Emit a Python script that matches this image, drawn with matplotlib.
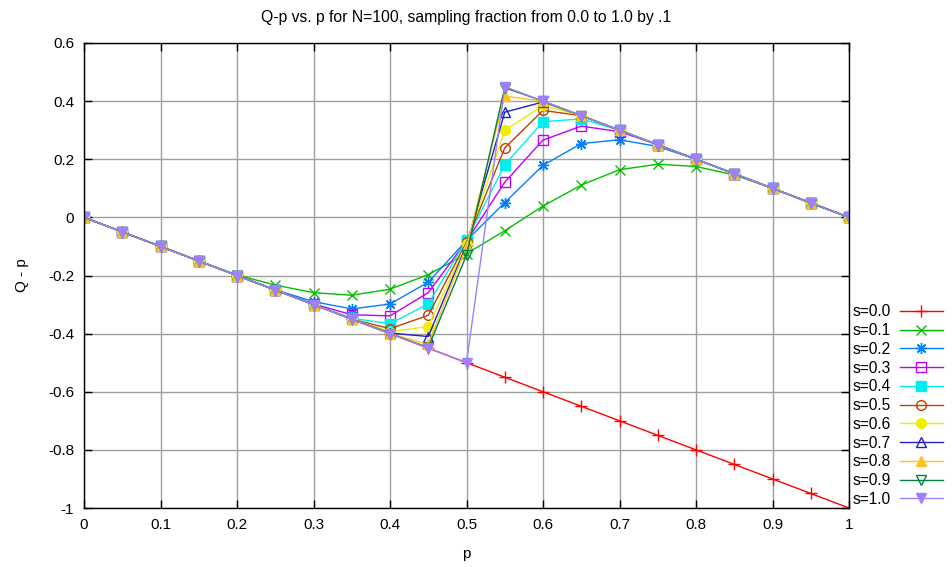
import matplotlib
matplotlib.use("Agg")
import matplotlib.pyplot as plt

plt.rcParams['font.family'] = ['Liberation Sans', 'DejaVu Sans']
plt.rcParams['font.size'] = 11

p = [0.0, 0.05, 0.1, 0.15, 0.2, 0.25, 0.3, 0.35, 0.4, 0.45, 0.5,
     0.55, 0.6, 0.65, 0.7, 0.75, 0.8, 0.85, 0.9, 0.95, 1.0]

s00 = [0.0, -0.05, -0.1, -0.15, -0.2, -0.25, -0.3, -0.35, -0.4, -0.45, -0.5,
       -0.55, -0.6, -0.65, -0.7, -0.75, -0.8, -0.85, -0.9, -0.95, -1.0]
s01 = [0.0, -0.05, -0.1, -0.15, -0.198, -0.233, -0.259, -0.268, -0.247, -0.197, -0.125,
       -0.046, 0.039, 0.111, 0.164, 0.183, 0.175, 0.146, 0.1, 0.048, 0.0]
s02 = [0.0, -0.05, -0.1, -0.15, -0.2, -0.249, -0.29, -0.315, -0.298, -0.223, -0.08,
       0.051, 0.179, 0.254, 0.267, 0.244, 0.2, 0.15, 0.1, 0.05, 0.0]
s03 = [0.0, -0.05, -0.1, -0.15, -0.2, -0.25, -0.298, -0.335, -0.339, -0.259, -0.082,
       0.121, 0.266, 0.314, 0.295, 0.25, 0.2, 0.15, 0.1, 0.05, 0.0]
s04 = [0.0, -0.05, -0.1, -0.15, -0.2, -0.25, -0.3, -0.347, -0.366, -0.298, -0.078,
       0.181, 0.329, 0.339, 0.3, 0.25, 0.2, 0.15, 0.1, 0.05, 0.0]
s05 = [0.0, -0.05, -0.1, -0.15, -0.2, -0.25, -0.3, -0.35, -0.383, -0.337, -0.085,
       0.239, 0.368, 0.35, 0.3, 0.25, 0.2, 0.15, 0.1, 0.05, 0.0]
s06 = [0.0, -0.05, -0.1, -0.15, -0.2, -0.25, -0.3, -0.35, -0.393, -0.376, -0.09,
       0.299, 0.385, 0.35, 0.3, 0.25, 0.2, 0.15, 0.1, 0.05, 0.0]
s07 = [0.0, -0.05, -0.1, -0.15, -0.2, -0.25, -0.3, -0.35, -0.398, -0.41, -0.095,
       0.362, 0.397, 0.35, 0.3, 0.25, 0.2, 0.15, 0.1, 0.05, 0.0]
s08 = [0.0, -0.05, -0.1, -0.15, -0.2, -0.25, -0.3, -0.35, -0.4, -0.437, -0.1,
       0.417, 0.4, 0.35, 0.3, 0.25, 0.2, 0.15, 0.1, 0.05, 0.0]
s09 = [0.0, -0.05, -0.1, -0.15, -0.2, -0.25, -0.3, -0.35, -0.4, -0.448, -0.13,
       0.446, 0.4, 0.35, 0.3, 0.25, 0.2, 0.15, 0.1, 0.05, 0.0]
s10 = [0.0, -0.05, -0.1, -0.15, -0.2, -0.25, -0.3, -0.35, -0.4, -0.45, -0.5,
       0.45, 0.4, 0.35, 0.3, 0.25, 0.2, 0.15, 0.1, 0.05, 0.0]

series = [s00, s01, s02, s03, s04, s05, s06, s07, s08, s09, s10]
labels = ['s=0.0', 's=0.1', 's=0.2', 's=0.3', 's=0.4', 's=0.5',
          's=0.6', 's=0.7', 's=0.8', 's=0.9', 's=1.0']

xticks = [0, 0.1, 0.2, 0.3, 0.4, 0.5, 0.6, 0.7, 0.8, 0.9, 1.0]
xticklabels = ['0', '0.1', '0.2', '0.3', '0.4', '0.5', '0.6', '0.7', '0.8', '0.9', '1']
yticks = [0.6, 0.4, 0.2, 0, -0.2, -0.4, -0.6, -0.8, -1.0]
yticklabels = ['0.6', '0.4', '0.2', '0', '-0.2', '-0.4', '-0.6', '-0.8', '-1']

colors = ['#ff0000', '#00c000', '#0080ff', '#c000ff', '#00eeee', '#c04000',
          '#eeee00', '#2020c0', '#ffc020', '#008040', '#a080ff']
markers = ['+', 'x', (8, 2, 0), 's', 's', 'o', 'o', '^', '^', 'v', 'v']
filled = [True, True, True, False, True, False, True, False, True, False, True]
msizes = [8, 7, 8, 7, 7, 7, 7, 7, 7, 7, 7]

fig = plt.figure(figsize=(9.52, 5.67), dpi=100)
ax = fig.add_axes([84 / 952, 1 - 508 / 567, (849 - 84) / 952, (508 - 43) / 567])

for ys, lab, c, m, f, ms in zip(series, labels, colors, markers, filled, msizes):
    kw = dict(color=c, marker=m, markersize=ms, linewidth=1.0, label=lab,
              markeredgewidth=1.0)
    if not f:
        kw['markerfacecolor'] = 'none'
    ax.plot(p, ys, **kw)

ax.set_xlim(0, 1)
ax.set_ylim(-1, 0.6)
ax.set_xticks(xticks)
ax.set_xticklabels(xticklabels)
ax.set_yticks(yticks)
ax.set_yticklabels(yticklabels)
ax.tick_params(direction='in', length=6, top=True, right=True, width=1, pad=7)
ax.grid(True, color='#a0a0a0', linewidth=1.0)
ax.set_axisbelow(True)
for sp in ax.spines.values():
    sp.set_linewidth(1.0)
    sp.set_color('black')

ax.set_xlabel('p', labelpad=11)
ax.set_ylabel('Q - p', labelpad=14)
ax.set_title('Q-p vs. p for N=100, sampling fraction from 0.0 to 1.0 by .1',
             pad=15.3, fontsize=11.3)

leg = ax.legend(loc='lower left', bbox_to_anchor=(1.0, -0.004), frameon=False,
                handlelength=2.8, labelspacing=0.24, markerfirst=False,
                handletextpad=0.6, borderaxespad=0.0, borderpad=0.2,
                fontsize=11.2)

fig.savefig('out.png', dpi=100)
